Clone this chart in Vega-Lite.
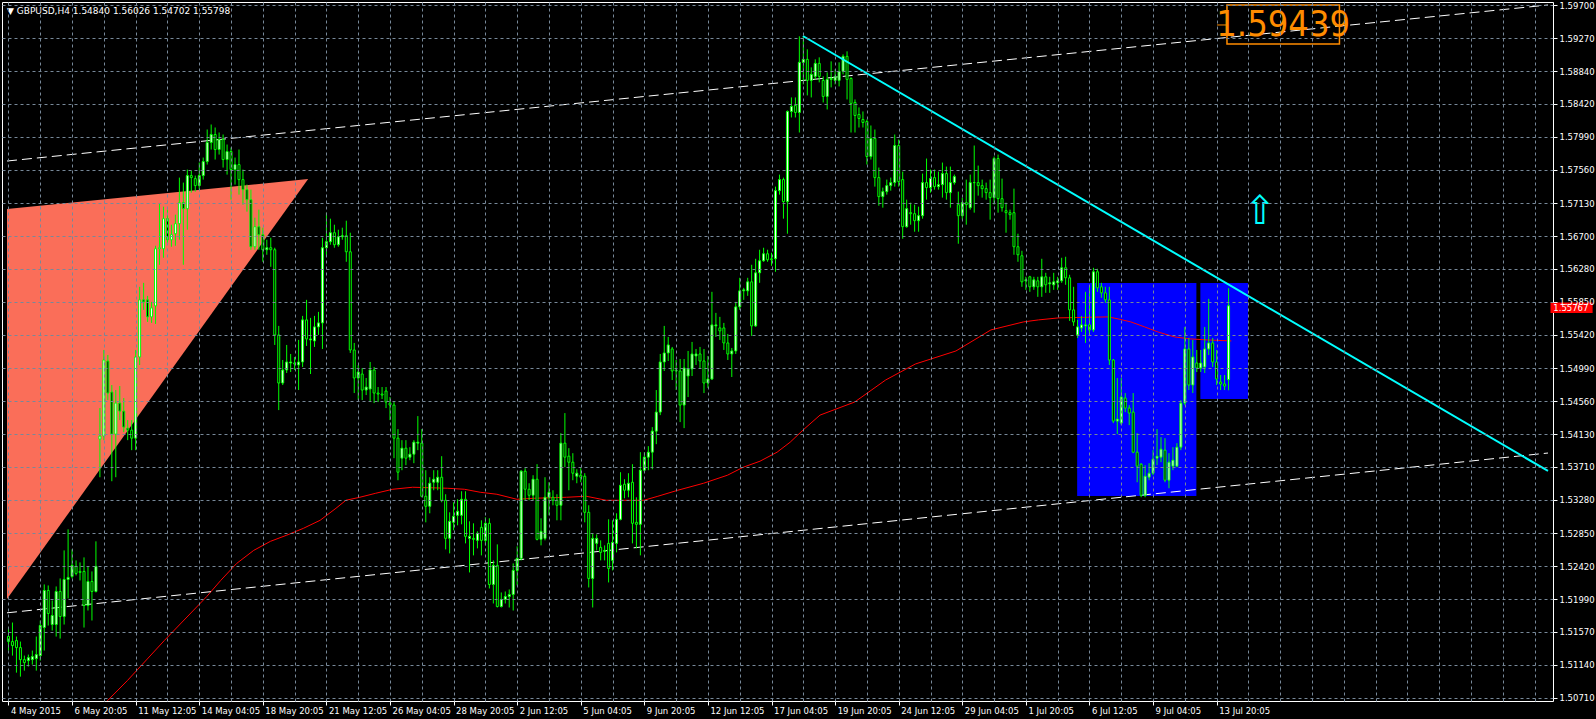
{
"$schema":"https://vega.github.io/schema/vega-lite/v6.json",
"width":1551,"height":699,
"autosize":{"type":"none"},
"padding":{"left":2,"top":2,"right":43,"bottom":18},
"background":"#000000",
"config":{"view":{"stroke":"#ffffff","strokeWidth":1},"axis":{"labelOverlap":false,"labelSeparation":0}},
"title":{"text":"▼ GBPUSD,H4  1.54840 1.56026 1.54702 1.55798","anchor":"start","frame":"group","orient":"top","offset":-13,"baseline":"bottom","dx":5,"dy":11,"color":"#ffffff","font":"DejaVu Sans","fontSize":9,"fontWeight":"normal"},
"datasets":{
"tri":[{"i":-0.375,"p":1.57054,"p2":1.51994},{"i":75.4,"p":1.57443,"p2":1.57443}],
"rects":[{"i":268.9,"i2":298.9,"p":1.56094,"p2":1.5333},{"i":299.9,"i2":311.9,"p":1.56094,"p2":1.54589}],
"chan":[{"g":"u","i":-0.375,"p":1.57676},{"g":"u","i":387.375,"p":1.5970},{"g":"l","i":-0.375,"p":1.51815},{"g":"l","i":387.375,"p":1.53888}],
"trend":[{"i":199.9,"p":1.59298},{"i":387.375,"p":1.53655}],
"ma":[{"i":20.4,"p":1.5044},{"i":24.9,"p":1.50675},{"i":29.9,"p":1.50935},{"i":39.2,"p":1.51455},{"i":49.9,"p":1.52027},{"i":53.4,"p":1.52235},{"i":57.4,"p":1.52455},{"i":61.7,"p":1.52625},{"i":65.9,"p":1.52742},{"i":69.9,"p":1.5282},{"i":74.2,"p":1.52911},{"i":78.4,"p":1.53015},{"i":82.4,"p":1.53171},{"i":84.9,"p":1.53275},{"i":88.4,"p":1.53314},{"i":92.4,"p":1.53366},{"i":96.7,"p":1.53418},{"i":101.7,"p":1.53444},{"i":110.4,"p":1.53431},{"i":114.7,"p":1.53418},{"i":118.7,"p":1.53379},{"i":122.9,"p":1.53353},{"i":127.9,"p":1.53288},{"i":132.2,"p":1.53301},{"i":140.4,"p":1.53314},{"i":145.4,"p":1.53327},{"i":150.4,"p":1.53275},{"i":159.9,"p":1.53275},{"i":163.4,"p":1.53327},{"i":168.4,"p":1.53405},{"i":174.9,"p":1.53496},{"i":180.9,"p":1.536},{"i":184.9,"p":1.53704},{"i":189.1,"p":1.53782},{"i":193.4,"p":1.53899},{"i":196.7,"p":1.54029},{"i":199.9,"p":1.54185},{"i":204.2,"p":1.5438},{"i":212.9,"p":1.54549},{"i":220.7,"p":1.54835},{"i":228.2,"p":1.55043},{"i":238.4,"p":1.55212},{"i":247.2,"p":1.55485},{"i":255.4,"p":1.55589},{"i":259.2,"p":1.55615},{"i":264.2,"p":1.55641},{"i":276.7,"p":1.55654},{"i":279.2,"p":1.55628},{"i":282.4,"p":1.55589},{"i":285.9,"p":1.55524},{"i":289.2,"p":1.55459},{"i":293.4,"p":1.55394},{"i":297.4,"p":1.55368},{"i":301.7,"p":1.55355},{"i":307.7,"p":1.55342}],
"box":[{"i":306.6,"i2":334.9,"p":1.5970,"p2":1.59194}],
"boxtext":[{"i":320.75,"p":1.5944,"t":"1.59439"}],
"boxtick":[{"i":304.1,"i2":306.6,"p":1.59441}],
"arrow":[{"i":314.9,"p":1.57015,"t":"⇧"}],
"plabel":[{"i":388,"i2":398.6,"p":1.55841,"p2":1.55705}],
"ptext":[{"i":388.7,"p":1.55773,"t":"1.55767"}],
"candles":[
{"i":0,"o":1.51507,"h":1.51624,"l":1.51325,"c":1.51442},
{"i":1,"o":1.51442,"h":1.51689,"l":1.51260,"c":1.51390},
{"i":2,"o":1.51455,"h":1.51507,"l":1.51039,"c":1.51364},
{"i":3,"o":1.51364,"h":1.51442,"l":1.50987,"c":1.51208},
{"i":4,"o":1.51208,"h":1.51260,"l":1.51065,"c":1.51169},
{"i":5,"o":1.51195,"h":1.51273,"l":1.51117,"c":1.51234},
{"i":6,"o":1.51208,"h":1.51325,"l":1.51143,"c":1.51247},
{"i":7,"o":1.51221,"h":1.51507,"l":1.51065,"c":1.51273},
{"i":8,"o":1.51260,"h":1.51715,"l":1.51195,"c":1.51650},
{"i":9,"o":1.51624,"h":1.52183,"l":1.51325,"c":1.52105},
{"i":10,"o":1.52105,"h":1.52170,"l":1.51650,"c":1.51806},
{"i":11,"o":1.51663,"h":1.51975,"l":1.51585,"c":1.51780},
{"i":12,"o":1.51663,"h":1.52157,"l":1.51507,"c":1.52092},
{"i":13,"o":1.52092,"h":1.52261,"l":1.51481,"c":1.51767},
{"i":14,"o":1.51767,"h":1.52625,"l":1.51663,"c":1.52248},
{"i":15,"o":1.52248,"h":1.52898,"l":1.52001,"c":1.52274},
{"i":16,"o":1.52287,"h":1.52638,"l":1.52261,"c":1.52430},
{"i":17,"o":1.52417,"h":1.52495,"l":1.52300,"c":1.52326},
{"i":18,"o":1.52352,"h":1.52469,"l":1.52235,"c":1.52339},
{"i":19,"o":1.52352,"h":1.52534,"l":1.51624,"c":1.51910},
{"i":20,"o":1.51910,"h":1.52417,"l":1.51845,"c":1.52222},
{"i":21,"o":1.52222,"h":1.52352,"l":1.51715,"c":1.52092},
{"i":22,"o":1.52092,"h":1.52742,"l":1.52079,"c":1.52417},
{"i":23,"o":1.54068,"h":1.54471,"l":1.53574,"c":1.54107},
{"i":24,"o":1.54107,"h":1.55225,"l":1.54055,"c":1.55095},
{"i":25,"o":1.55082,"h":1.55160,"l":1.54575,"c":1.54666},
{"i":26,"o":1.54679,"h":1.54770,"l":1.53522,"c":1.54133},
{"i":27,"o":1.54133,"h":1.54705,"l":1.53574,"c":1.54536},
{"i":28,"o":1.54536,"h":1.54757,"l":1.54315,"c":1.54432},
{"i":29,"o":1.54432,"h":1.54601,"l":1.54159,"c":1.54224},
{"i":30,"o":1.54211,"h":1.54315,"l":1.54055,"c":1.54185},
{"i":31,"o":1.54185,"h":1.54315,"l":1.53925,"c":1.54081},
{"i":32,"o":1.54081,"h":1.55225,"l":1.53925,"c":1.55134},
{"i":33,"o":1.55134,"h":1.56044,"l":1.55030,"c":1.55875},
{"i":34,"o":1.55875,"h":1.56096,"l":1.55745,"c":1.55849},
{"i":35,"o":1.55875,"h":1.55927,"l":1.55589,"c":1.55654},
{"i":36,"o":1.55654,"h":1.55849,"l":1.55576,"c":1.55771},
{"i":37,"o":1.55797,"h":1.56577,"l":1.55563,"c":1.56538},
{"i":38,"o":1.56538,"h":1.57123,"l":1.56330,"c":1.56551},
{"i":39,"o":1.56538,"h":1.57084,"l":1.56421,"c":1.56928},
{"i":40,"o":1.56928,"h":1.57045,"l":1.56590,"c":1.56655},
{"i":41,"o":1.56655,"h":1.56850,"l":1.56564,"c":1.56720},
{"i":42,"o":1.56733,"h":1.56980,"l":1.56577,"c":1.56863},
{"i":43,"o":1.56863,"h":1.57461,"l":1.56655,"c":1.57136},
{"i":44,"o":1.57136,"h":1.57396,"l":1.56330,"c":1.57058},
{"i":45,"o":1.57058,"h":1.57565,"l":1.56785,"c":1.57487},
{"i":46,"o":1.57487,"h":1.57552,"l":1.57266,"c":1.57461},
{"i":47,"o":1.57448,"h":1.57487,"l":1.57279,"c":1.57357},
{"i":48,"o":1.57357,"h":1.57656,"l":1.57305,"c":1.57487},
{"i":49,"o":1.57487,"h":1.57721,"l":1.57435,"c":1.57669},
{"i":50,"o":1.57669,"h":1.58085,"l":1.57630,"c":1.57916},
{"i":51,"o":1.57916,"h":1.58150,"l":1.57825,"c":1.58020},
{"i":52,"o":1.58020,"h":1.58111,"l":1.57695,"c":1.57825},
{"i":53,"o":1.57825,"h":1.58046,"l":1.57760,"c":1.57955},
{"i":54,"o":1.57955,"h":1.58020,"l":1.57591,"c":1.57695},
{"i":55,"o":1.57695,"h":1.57890,"l":1.57500,"c":1.57799},
{"i":56,"o":1.57799,"h":1.57851,"l":1.57175,"c":1.57565},
{"i":57,"o":1.57565,"h":1.57721,"l":1.57370,"c":1.57630},
{"i":58,"o":1.57630,"h":1.57825,"l":1.57240,"c":1.57435},
{"i":59,"o":1.57435,"h":1.57565,"l":1.57110,"c":1.57305},
{"i":60,"o":1.57305,"h":1.57370,"l":1.57019,"c":1.57175},
{"i":61,"o":1.57175,"h":1.57305,"l":1.56525,"c":1.56564},
{"i":62,"o":1.56564,"h":1.56941,"l":1.56525,"c":1.56824},
{"i":63,"o":1.56824,"h":1.57045,"l":1.56525,"c":1.56720},
{"i":64,"o":1.56720,"h":1.56811,"l":1.56369,"c":1.56525},
{"i":65,"o":1.56525,"h":1.56655,"l":1.56460,"c":1.56551},
{"i":66,"o":1.56551,"h":1.56681,"l":1.56304,"c":1.56525},
{"i":67,"o":1.56525,"h":1.56551,"l":1.55290,"c":1.55420},
{"i":68,"o":1.55420,"h":1.55537,"l":1.54445,"c":1.54796},
{"i":69,"o":1.54796,"h":1.55095,"l":1.54770,"c":1.54965},
{"i":70,"o":1.54965,"h":1.55290,"l":1.54926,"c":1.55069},
{"i":71,"o":1.55056,"h":1.55173,"l":1.54939,"c":1.55069},
{"i":72,"o":1.55056,"h":1.55134,"l":1.54965,"c":1.55043},
{"i":73,"o":1.55030,"h":1.55355,"l":1.54705,"c":1.55069},
{"i":74,"o":1.55069,"h":1.55667,"l":1.55004,"c":1.55615},
{"i":75,"o":1.55615,"h":1.55875,"l":1.55277,"c":1.55368},
{"i":76,"o":1.55355,"h":1.55641,"l":1.54913,"c":1.55368},
{"i":77,"o":1.55342,"h":1.55667,"l":1.55264,"c":1.55524},
{"i":78,"o":1.55524,"h":1.55719,"l":1.55420,"c":1.55576},
{"i":79,"o":1.55576,"h":1.56681,"l":1.55238,"c":1.56551},
{"i":80,"o":1.56551,"h":1.57006,"l":1.56434,"c":1.56629},
{"i":81,"o":1.56629,"h":1.56928,"l":1.56590,"c":1.56746},
{"i":82,"o":1.56746,"h":1.56850,"l":1.56551,"c":1.56590},
{"i":83,"o":1.56590,"h":1.56785,"l":1.56564,"c":1.56694},
{"i":84,"o":1.56694,"h":1.56811,"l":1.56655,"c":1.56707},
{"i":85,"o":1.56707,"h":1.56902,"l":1.56369,"c":1.56499},
{"i":86,"o":1.56499,"h":1.56746,"l":1.55186,"c":1.55225},
{"i":87,"o":1.55225,"h":1.55316,"l":1.54666,"c":1.54861},
{"i":88,"o":1.54861,"h":1.55030,"l":1.54575,"c":1.54939},
{"i":89,"o":1.54913,"h":1.54991,"l":1.54575,"c":1.54705},
{"i":90,"o":1.54705,"h":1.54861,"l":1.54640,"c":1.54744},
{"i":91,"o":1.54718,"h":1.55069,"l":1.54562,"c":1.54965},
{"i":92,"o":1.54965,"h":1.55004,"l":1.54536,"c":1.54666},
{"i":93,"o":1.54666,"h":1.54744,"l":1.54549,"c":1.54653},
{"i":94,"o":1.54653,"h":1.54744,"l":1.54588,"c":1.54640},
{"i":95,"o":1.54692,"h":1.54744,"l":1.54471,"c":1.54549},
{"i":96,"o":1.54536,"h":1.54614,"l":1.54315,"c":1.54510},
{"i":97,"o":1.54510,"h":1.54549,"l":1.53821,"c":1.54081},
{"i":98,"o":1.54081,"h":1.54198,"l":1.53535,"c":1.53639},
{"i":99,"o":1.53821,"h":1.54055,"l":1.53665,"c":1.53951},
{"i":100,"o":1.53951,"h":1.54055,"l":1.53730,"c":1.53821},
{"i":101,"o":1.53834,"h":1.53964,"l":1.53795,"c":1.53873},
{"i":102,"o":1.53873,"h":1.54055,"l":1.53756,"c":1.54029},
{"i":103,"o":1.54016,"h":1.54367,"l":1.53925,"c":1.54029},
{"i":104,"o":1.54016,"h":1.54198,"l":1.53314,"c":1.53327},
{"i":105,"o":1.53327,"h":1.53665,"l":1.52989,"c":1.53197},
{"i":106,"o":1.53197,"h":1.53574,"l":1.53106,"c":1.53496},
{"i":107,"o":1.53509,"h":1.53665,"l":1.53405,"c":1.53548},
{"i":108,"o":1.53509,"h":1.53665,"l":1.53405,"c":1.53574},
{"i":109,"o":1.53574,"h":1.53847,"l":1.53249,"c":1.53275},
{"i":110,"o":1.53275,"h":1.53353,"l":1.52638,"c":1.52781},
{"i":111,"o":1.52781,"h":1.53119,"l":1.52586,"c":1.53002},
{"i":112,"o":1.52989,"h":1.53249,"l":1.52885,"c":1.53067},
{"i":113,"o":1.53080,"h":1.53288,"l":1.52950,"c":1.53132},
{"i":114,"o":1.53080,"h":1.53392,"l":1.52963,"c":1.53288},
{"i":115,"o":1.53288,"h":1.53392,"l":1.52716,"c":1.52807},
{"i":116,"o":1.52781,"h":1.53002,"l":1.52339,"c":1.52807},
{"i":117,"o":1.52781,"h":1.52976,"l":1.52560,"c":1.52768},
{"i":118,"o":1.52755,"h":1.52872,"l":1.52651,"c":1.52846},
{"i":119,"o":1.52924,"h":1.53015,"l":1.52560,"c":1.52755},
{"i":120,"o":1.52755,"h":1.53054,"l":1.52690,"c":1.52976},
{"i":121,"o":1.52976,"h":1.53041,"l":1.52131,"c":1.52183},
{"i":122,"o":1.52183,"h":1.52495,"l":1.51936,"c":1.52430},
{"i":123,"o":1.52430,"h":1.52703,"l":1.51884,"c":1.51897},
{"i":124,"o":1.51897,"h":1.52079,"l":1.51884,"c":1.51988},
{"i":125,"o":1.51988,"h":1.52092,"l":1.51936,"c":1.52027},
{"i":126,"o":1.52027,"h":1.52118,"l":1.51884,"c":1.52053},
{"i":127,"o":1.52053,"h":1.52456,"l":1.51845,"c":1.52365},
{"i":128,"o":1.52365,"h":1.52677,"l":1.52170,"c":1.52521},
{"i":129,"o":1.52521,"h":1.53665,"l":1.52495,"c":1.53652},
{"i":130,"o":1.53652,"h":1.53691,"l":1.53275,"c":1.53418},
{"i":131,"o":1.53418,"h":1.53496,"l":1.53275,"c":1.53340},
{"i":132,"o":1.53340,"h":1.53600,"l":1.53275,"c":1.53548},
{"i":133,"o":1.53548,"h":1.53743,"l":1.52755,"c":1.52768},
{"i":134,"o":1.52768,"h":1.53041,"l":1.52690,"c":1.52872},
{"i":135,"o":1.52781,"h":1.53574,"l":1.52755,"c":1.53314},
{"i":136,"o":1.53314,"h":1.53509,"l":1.53080,"c":1.53379},
{"i":137,"o":1.53314,"h":1.53405,"l":1.53210,"c":1.53275},
{"i":138,"o":1.53275,"h":1.53353,"l":1.53015,"c":1.53210},
{"i":139,"o":1.53210,"h":1.54146,"l":1.53015,"c":1.54016},
{"i":140,"o":1.54016,"h":1.54406,"l":1.53704,"c":1.53834},
{"i":141,"o":1.53847,"h":1.53951,"l":1.53405,"c":1.53769},
{"i":142,"o":1.53769,"h":1.53886,"l":1.53535,"c":1.53626},
{"i":143,"o":1.53587,"h":1.53678,"l":1.53496,"c":1.53626},
{"i":144,"o":1.53600,"h":1.53691,"l":1.53509,"c":1.53574},
{"i":145,"o":1.53587,"h":1.53626,"l":1.52989,"c":1.53119},
{"i":146,"o":1.53119,"h":1.53210,"l":1.52144,"c":1.52261},
{"i":147,"o":1.52261,"h":1.52846,"l":1.51884,"c":1.52781},
{"i":148,"o":1.52716,"h":1.52833,"l":1.52625,"c":1.52781},
{"i":149,"o":1.52664,"h":1.52755,"l":1.52495,"c":1.52599},
{"i":150,"o":1.52612,"h":1.52690,"l":1.52495,"c":1.52625},
{"i":151,"o":1.52716,"h":1.53028,"l":1.52209,"c":1.52391},
{"i":152,"o":1.52495,"h":1.53015,"l":1.52365,"c":1.52729},
{"i":153,"o":1.52716,"h":1.53106,"l":1.52599,"c":1.53028},
{"i":154,"o":1.53028,"h":1.53639,"l":1.53015,"c":1.53470},
{"i":155,"o":1.53483,"h":1.53548,"l":1.53301,"c":1.53405},
{"i":156,"o":1.53405,"h":1.53626,"l":1.53314,"c":1.53496},
{"i":157,"o":1.53509,"h":1.53743,"l":1.52716,"c":1.52976},
{"i":158,"o":1.52989,"h":1.53314,"l":1.52651,"c":1.52963},
{"i":159,"o":1.52963,"h":1.53899,"l":1.52560,"c":1.53665},
{"i":160,"o":1.53665,"h":1.53899,"l":1.53639,"c":1.53834},
{"i":161,"o":1.53834,"h":1.53977,"l":1.53665,"c":1.53899},
{"i":162,"o":1.53899,"h":1.54224,"l":1.53678,"c":1.54172},
{"i":163,"o":1.54172,"h":1.54705,"l":1.54003,"c":1.54419},
{"i":164,"o":1.54419,"h":1.55173,"l":1.54380,"c":1.55069},
{"i":165,"o":1.55069,"h":1.55537,"l":1.54952,"c":1.55186},
{"i":166,"o":1.55186,"h":1.55394,"l":1.55082,"c":1.55290},
{"i":167,"o":1.55238,"h":1.55264,"l":1.54835,"c":1.54952},
{"i":168,"o":1.54965,"h":1.55095,"l":1.54705,"c":1.54952},
{"i":169,"o":1.54952,"h":1.55108,"l":1.54289,"c":1.54510},
{"i":170,"o":1.54510,"h":1.55108,"l":1.54211,"c":1.54991},
{"i":171,"o":1.54887,"h":1.55212,"l":1.54614,"c":1.54978},
{"i":172,"o":1.54978,"h":1.55329,"l":1.54887,"c":1.55173},
{"i":173,"o":1.55147,"h":1.55238,"l":1.55030,"c":1.55173},
{"i":174,"o":1.55173,"h":1.55264,"l":1.54991,"c":1.55082},
{"i":175,"o":1.55082,"h":1.55238,"l":1.54666,"c":1.54796},
{"i":176,"o":1.54796,"h":1.55147,"l":1.54731,"c":1.54848},
{"i":177,"o":1.54848,"h":1.55979,"l":1.54835,"c":1.55550},
{"i":178,"o":1.55537,"h":1.55706,"l":1.55394,"c":1.55550},
{"i":179,"o":1.55511,"h":1.55654,"l":1.55355,"c":1.55472},
{"i":180,"o":1.55511,"h":1.55576,"l":1.55225,"c":1.55316},
{"i":181,"o":1.55316,"h":1.55433,"l":1.55095,"c":1.55173},
{"i":182,"o":1.55173,"h":1.55251,"l":1.54874,"c":1.55212},
{"i":183,"o":1.55212,"h":1.55849,"l":1.55173,"c":1.55784},
{"i":184,"o":1.55784,"h":1.56161,"l":1.55745,"c":1.55992},
{"i":185,"o":1.55992,"h":1.56031,"l":1.55875,"c":1.56005},
{"i":186,"o":1.55992,"h":1.56161,"l":1.55927,"c":1.56109},
{"i":187,"o":1.56109,"h":1.56330,"l":1.55407,"c":1.55537},
{"i":188,"o":1.55537,"h":1.56408,"l":1.55524,"c":1.56226},
{"i":189,"o":1.56226,"h":1.56525,"l":1.56096,"c":1.56382},
{"i":190,"o":1.56382,"h":1.56551,"l":1.56369,"c":1.56473},
{"i":191,"o":1.56473,"h":1.56525,"l":1.56369,"c":1.56395},
{"i":192,"o":1.56408,"h":1.56486,"l":1.56317,"c":1.56395},
{"i":193,"o":1.56408,"h":1.57344,"l":1.56239,"c":1.57292},
{"i":194,"o":1.57292,"h":1.57500,"l":1.57240,"c":1.57435},
{"i":195,"o":1.57435,"h":1.57461,"l":1.56928,"c":1.57149},
{"i":196,"o":1.57149,"h":1.58332,"l":1.56733,"c":1.58319},
{"i":197,"o":1.58319,"h":1.58501,"l":1.58241,"c":1.58384},
{"i":198,"o":1.58397,"h":1.58501,"l":1.58241,"c":1.58306},
{"i":199,"o":1.58306,"h":1.59294,"l":1.58046,"c":1.58956},
{"i":200,"o":1.58956,"h":1.59294,"l":1.58670,"c":1.58995},
{"i":201,"o":1.58995,"h":1.59125,"l":1.58527,"c":1.58722},
{"i":202,"o":1.58722,"h":1.58891,"l":1.58501,"c":1.58800},
{"i":203,"o":1.58774,"h":1.58995,"l":1.58735,"c":1.58943},
{"i":204,"o":1.58943,"h":1.59021,"l":1.58696,"c":1.58774},
{"i":205,"o":1.58722,"h":1.58774,"l":1.58436,"c":1.58514},
{"i":206,"o":1.58514,"h":1.58826,"l":1.58345,"c":1.58735},
{"i":207,"o":1.58735,"h":1.58969,"l":1.58631,"c":1.58748},
{"i":208,"o":1.58722,"h":1.58865,"l":1.58670,"c":1.58774},
{"i":209,"o":1.58722,"h":1.58956,"l":1.58644,"c":1.58839},
{"i":210,"o":1.58839,"h":1.59060,"l":1.58800,"c":1.59034},
{"i":211,"o":1.59034,"h":1.59099,"l":1.58475,"c":1.58735},
{"i":212,"o":1.58748,"h":1.58761,"l":1.58046,"c":1.58423},
{"i":213,"o":1.58436,"h":1.58475,"l":1.58046,"c":1.58267},
{"i":214,"o":1.58280,"h":1.58371,"l":1.58111,"c":1.58228},
{"i":215,"o":1.58215,"h":1.58319,"l":1.58111,"c":1.58176},
{"i":216,"o":1.58189,"h":1.58215,"l":1.57630,"c":1.57734},
{"i":217,"o":1.57734,"h":1.58137,"l":1.57695,"c":1.57968},
{"i":218,"o":1.57968,"h":1.58085,"l":1.57344,"c":1.57461},
{"i":219,"o":1.57461,"h":1.57591,"l":1.57097,"c":1.57214},
{"i":220,"o":1.57214,"h":1.57331,"l":1.57071,"c":1.57279},
{"i":221,"o":1.57279,"h":1.57435,"l":1.57240,"c":1.57357},
{"i":222,"o":1.57357,"h":1.57461,"l":1.57292,"c":1.57396},
{"i":223,"o":1.57396,"h":1.58020,"l":1.57344,"c":1.57877},
{"i":224,"o":1.57877,"h":1.57955,"l":1.57344,"c":1.57409},
{"i":225,"o":1.57435,"h":1.57539,"l":1.56668,"c":1.56824},
{"i":226,"o":1.56824,"h":1.57175,"l":1.56811,"c":1.57058},
{"i":227,"o":1.57006,"h":1.57136,"l":1.56850,"c":1.56993},
{"i":228,"o":1.56993,"h":1.57110,"l":1.56759,"c":1.56902},
{"i":229,"o":1.56902,"h":1.57084,"l":1.56759,"c":1.56967},
{"i":230,"o":1.56967,"h":1.57513,"l":1.56928,"c":1.57396},
{"i":231,"o":1.57396,"h":1.57708,"l":1.57175,"c":1.57331},
{"i":232,"o":1.57331,"h":1.57565,"l":1.57266,"c":1.57448},
{"i":233,"o":1.57461,"h":1.57565,"l":1.57305,"c":1.57344},
{"i":234,"o":1.57344,"h":1.57539,"l":1.57305,"c":1.57370},
{"i":235,"o":1.57370,"h":1.57656,"l":1.57201,"c":1.57513},
{"i":236,"o":1.57513,"h":1.57604,"l":1.57175,"c":1.57266},
{"i":237,"o":1.57266,"h":1.57604,"l":1.57071,"c":1.57396},
{"i":238,"o":1.57396,"h":1.57500,"l":1.57370,"c":1.57474},
{"i":239,"o":1.57110,"h":1.57279,"l":1.56603,"c":1.56967},
{"i":240,"o":1.56967,"h":1.57201,"l":1.56915,"c":1.57136},
{"i":241,"o":1.57136,"h":1.57435,"l":1.56850,"c":1.57110},
{"i":242,"o":1.57071,"h":1.57500,"l":1.57045,"c":1.57396},
{"i":243,"o":1.57396,"h":1.57877,"l":1.57006,"c":1.57396},
{"i":244,"o":1.57396,"h":1.57617,"l":1.57227,"c":1.57357},
{"i":245,"o":1.57357,"h":1.57435,"l":1.57201,"c":1.57318},
{"i":246,"o":1.57318,"h":1.57396,"l":1.57175,"c":1.57266},
{"i":247,"o":1.57266,"h":1.57435,"l":1.56915,"c":1.57201},
{"i":248,"o":1.57201,"h":1.57734,"l":1.57110,"c":1.57708},
{"i":249,"o":1.57708,"h":1.57760,"l":1.57006,"c":1.57188},
{"i":250,"o":1.57188,"h":1.57448,"l":1.57019,"c":1.57071},
{"i":251,"o":1.57032,"h":1.57136,"l":1.56746,"c":1.57006},
{"i":252,"o":1.57006,"h":1.57045,"l":1.56915,"c":1.56980},
{"i":253,"o":1.57006,"h":1.57318,"l":1.56460,"c":1.56564},
{"i":254,"o":1.56564,"h":1.56733,"l":1.56369,"c":1.56460},
{"i":255,"o":1.56447,"h":1.56512,"l":1.56044,"c":1.56109},
{"i":256,"o":1.56122,"h":1.56174,"l":1.56005,"c":1.56135},
{"i":257,"o":1.56174,"h":1.56187,"l":1.55979,"c":1.56044},
{"i":258,"o":1.56044,"h":1.56174,"l":1.56005,"c":1.56135},
{"i":259,"o":1.56122,"h":1.56174,"l":1.55914,"c":1.56044},
{"i":260,"o":1.56044,"h":1.56408,"l":1.55914,"c":1.56174},
{"i":261,"o":1.56174,"h":1.56226,"l":1.55966,"c":1.56070},
{"i":262,"o":1.56083,"h":1.56174,"l":1.55966,"c":1.56096},
{"i":263,"o":1.56070,"h":1.56226,"l":1.56005,"c":1.56109},
{"i":264,"o":1.56096,"h":1.56174,"l":1.56005,"c":1.56122},
{"i":265,"o":1.56122,"h":1.56421,"l":1.56096,"c":1.56291},
{"i":266,"o":1.56291,"h":1.56434,"l":1.56070,"c":1.56161},
{"i":267,"o":1.56161,"h":1.56200,"l":1.55602,"c":1.55745},
{"i":268,"o":1.55745,"h":1.56044,"l":1.55537,"c":1.55589},
{"i":269,"o":1.55420,"h":1.55615,"l":1.55381,"c":1.55524},
{"i":270,"o":1.55511,"h":1.55667,"l":1.55459,"c":1.55550},
{"i":271,"o":1.55537,"h":1.55979,"l":1.55316,"c":1.55550},
{"i":272,"o":1.55550,"h":1.56044,"l":1.55407,"c":1.55485},
{"i":273,"o":1.55485,"h":1.56291,"l":1.55459,"c":1.56239},
{"i":274,"o":1.56239,"h":1.56278,"l":1.55979,"c":1.56031},
{"i":275,"o":1.56044,"h":1.56096,"l":1.55901,"c":1.55966},
{"i":276,"o":1.55966,"h":1.56044,"l":1.55836,"c":1.55875},
{"i":277,"o":1.55875,"h":1.56044,"l":1.55030,"c":1.55095},
{"i":278,"o":1.55095,"h":1.55108,"l":1.54276,"c":1.54302},
{"i":279,"o":1.54302,"h":1.54861,"l":1.54133,"c":1.54328},
{"i":280,"o":1.54276,"h":1.54861,"l":1.54250,"c":1.54614},
{"i":281,"o":1.54601,"h":1.54666,"l":1.54419,"c":1.54471},
{"i":282,"o":1.54471,"h":1.54510,"l":1.54250,"c":1.54406},
{"i":283,"o":1.54419,"h":1.54666,"l":1.53886,"c":1.53899},
{"i":284,"o":1.53899,"h":1.54146,"l":1.53509,"c":1.53717},
{"i":285,"o":1.53743,"h":1.53756,"l":1.53314,"c":1.53340},
{"i":286,"o":1.53340,"h":1.53730,"l":1.53314,"c":1.53587},
{"i":287,"o":1.53574,"h":1.53756,"l":1.53535,"c":1.53626},
{"i":288,"o":1.53626,"h":1.53925,"l":1.53600,"c":1.53808},
{"i":289,"o":1.53821,"h":1.54198,"l":1.53730,"c":1.53847},
{"i":290,"o":1.53834,"h":1.54094,"l":1.53769,"c":1.53938},
{"i":291,"o":1.53925,"h":1.54081,"l":1.53509,"c":1.53535},
{"i":292,"o":1.53535,"h":1.53886,"l":1.53431,"c":1.53769},
{"i":293,"o":1.53717,"h":1.53964,"l":1.53665,"c":1.53795},
{"i":294,"o":1.53717,"h":1.54016,"l":1.53704,"c":1.53964},
{"i":295,"o":1.53964,"h":1.54575,"l":1.53925,"c":1.54536},
{"i":296,"o":1.54536,"h":1.55524,"l":1.54510,"c":1.55238},
{"i":297,"o":1.55238,"h":1.55381,"l":1.54705,"c":1.54770},
{"i":298,"o":1.54770,"h":1.55355,"l":1.54666,"c":1.55134},
{"i":299,"o":1.55056,"h":1.55225,"l":1.54939,"c":1.54991},
{"i":300,"o":1.54991,"h":1.55225,"l":1.54939,"c":1.55056},
{"i":301,"o":1.55004,"h":1.55524,"l":1.54926,"c":1.55238},
{"i":302,"o":1.55238,"h":1.55888,"l":1.55160,"c":1.55316},
{"i":303,"o":1.55316,"h":1.55381,"l":1.55004,"c":1.55069},
{"i":304,"o":1.55069,"h":1.55225,"l":1.54770,"c":1.54848},
{"i":305,"o":1.54809,"h":1.54900,"l":1.54705,"c":1.54783},
{"i":306,"o":1.54783,"h":1.54900,"l":1.54705,"c":1.54757},
{"i":307,"o":1.54840,"h":1.56026,"l":1.54702,"c":1.55798}
]},
"layer":[
{"data":{"name":"tri"},"mark":{"type":"area","color":"#fa6e59","opacity":1,"clip":true},
 "encoding":{
  "x":{"field":"i","type":"quantitative","scale":{"domain":[-0.375,387.375],"nice":false,"zero":false},
   "axis":{"title":null,"zindex":1,"tickCount":100,"values":[0,8,16,24,32,40,48,56,64,72,80,88,96,104,112,120,128,136,144,152,160,168,176,184,192,200,208,216,224,232,240,248,256,264,272,280,288,296,304,312,320,328,336,344,352,360,368,376,384],
    "grid":true,"gridColor":"#778899","gridDash":[3,3],"gridWidth":1,"domain":false,
    "ticks":true,"tickSize":4,"tickColor":{"condition":{"test":"datum.value % 16 === 0 && datum.value <= 304","value":"#ffffff"},"value":"rgba(0,0,0,0)"},
    "labelExpr":"(datum.value % 16 === 0 && datum.value <= 304) ? ['4 May 2015','6 May 20:05','11 May 12:05','14 May 04:05','18 May 20:05','21 May 12:05','26 May 04:05','28 May 20:05','2 Jun 12:05','5 Jun 04:05','9 Jun 20:05','12 Jun 12:05','17 Jun 04:05','19 Jun 20:05','24 Jun 12:05','29 Jun 04:05','1 Jul 20:05','6 Jul 12:05','9 Jul 04:05','13 Jul 20:05'][datum.value / 16] : ''",
    "labelAlign":"left","labelOffset":2,"labelPadding":1,"labelColor":"#ffffff","labelFont":"DejaVu Sans","labelFontSize":8.5,"labelOverlap":false,"labelBound":false,"labelFlush":false}},
  "y":{"field":"p","type":"quantitative","scale":{"domain":[1.50671,1.59739],"nice":false,"zero":false},
   "axis":{"title":null,"zindex":1,"orient":"right","tickCount":100,"values":[1.5071,1.5114,1.5157,1.5199,1.5242,1.5285,1.5328,1.5371,1.5413,1.5456,1.5499,1.5542,1.5585,1.5628,1.567,1.5713,1.5756,1.5799,1.5842,1.5884,1.5927,1.597],
    "format":".5f","grid":true,"gridColor":"#778899","gridDash":[3,3],"gridWidth":1,"domain":false,
    "tickColor":"#ffffff","tickSize":4,"labelPadding":2,"labelColor":"#ffffff","labelFont":"DejaVu Sans","labelFontSize":8.5,"labelOverlap":false,"labelSeparation":0,"labelBound":false,"labelFlush":false}},
  "y2":{"field":"p2"}}},
{"data":{"name":"rects"},"mark":{"type":"rect","color":"#0000ff"},
 "encoding":{"x":{"field":"i","type":"quantitative"},"x2":{"field":"i2"},"y":{"field":"p","type":"quantitative"},"y2":{"field":"p2"}}},
{"data":{"name":"ma"},"mark":{"type":"line","color":"#ff0000","strokeWidth":1,"clip":true},
 "encoding":{"x":{"field":"i","type":"quantitative"},"y":{"field":"p","type":"quantitative"}}},
{"data":{"name":"chan"},"mark":{"type":"line","color":"#ffffff","strokeWidth":1,"strokeDash":[10,5],"clip":true},
 "encoding":{"x":{"field":"i","type":"quantitative"},"y":{"field":"p","type":"quantitative"},"detail":{"field":"g"}}},
{"mark":{"type":"rule","color":"#ff0000","strokeWidth":1,"strokeDash":[18,6]},"encoding":{"y":{"datum":1.55767}}},
{"mark":{"type":"rule","color":"#778899","strokeWidth":1},"encoding":{"y":{"datum":1.55798}}},
{"data":{"name":"candles"},"mark":{"type":"rule","color":"#00ff00","strokeWidth":1},
 "encoding":{"x":{"field":"i","type":"quantitative"},"y":{"field":"l","type":"quantitative"},"y2":{"field":"h"}}},
{"data":{"name":"candles"},"mark":{"type":"bar","size":2,"stroke":"#00ff00","strokeWidth":1},
 "encoding":{"x":{"field":"i","type":"quantitative"},"y":{"field":"o","type":"quantitative"},"y2":{"field":"c"},
  "fill":{"condition":{"test":"datum.c > datum.o","value":"#ffffff"},"value":"#000000"}}},
{"data":{"name":"trend"},"mark":{"type":"line","color":"#00ffff","strokeWidth":2,"clip":true},
 "encoding":{"x":{"field":"i","type":"quantitative"},"y":{"field":"p","type":"quantitative"}}},
{"data":{"name":"arrow"},"mark":{"type":"text","color":"#00ffff","font":"DejaVu Sans","fontSize":40,"align":"center","baseline":"middle"},
 "encoding":{"x":{"field":"i","type":"quantitative"},"y":{"field":"p","type":"quantitative"},"text":{"field":"t"}}},
{"data":{"name":"box"},"mark":{"type":"rect","fill":null,"fillOpacity":0,"stroke":"#ff8c00","strokeWidth":1.5},
 "encoding":{"x":{"field":"i","type":"quantitative"},"x2":{"field":"i2"},"y":{"field":"p","type":"quantitative"},"y2":{"field":"p2"}}},
{"data":{"name":"boxtick"},"mark":{"type":"rule","color":"#ff8c00","strokeWidth":1},
 "encoding":{"x":{"field":"i","type":"quantitative"},"x2":{"field":"i2"},"y":{"field":"p","type":"quantitative"}}},
{"data":{"name":"boxtext"},"mark":{"type":"text","color":"#ff8c00","font":"Liberation Sans Narrow, DejaVu Sans Condensed, Liberation Sans","fontSize":36,"align":"center","baseline":"middle"},
 "encoding":{"x":{"field":"i","type":"quantitative"},"y":{"field":"p","type":"quantitative"},"text":{"field":"t"}}},
{"data":{"name":"plabel"},"mark":{"type":"rect","color":"#ff0000"},
 "encoding":{"x":{"field":"i","type":"quantitative"},"x2":{"field":"i2"},"y":{"field":"p","type":"quantitative"},"y2":{"field":"p2"}}},
{"data":{"name":"ptext"},"mark":{"type":"text","color":"#ffffff","font":"DejaVu Sans","fontSize":8.5,"align":"left","baseline":"middle"},
 "encoding":{"x":{"field":"i","type":"quantitative"},"y":{"field":"p","type":"quantitative"},"text":{"field":"t"}}}
]
}
